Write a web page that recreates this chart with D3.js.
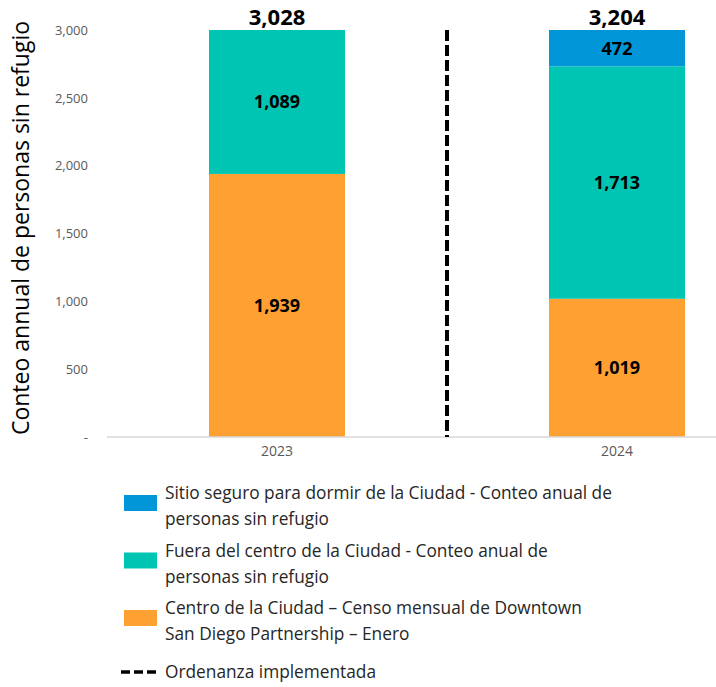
<!DOCTYPE html>
<head>
  <meta charset="utf-8">
  <script src="https://d3js.org/d3.v7.min.js"></script>
  <style>
    body { margin:0; background-color:#ffffff; }
    svg { display:block; font-family:"Open Sans", sans-serif; }
  </style>
</head>
<body>
<div class="chart-container"></div>
<script>
// data
var years = ["2023", "2024"];
var centro = [1939, 1019];     // orange
var fuera = [1089, 1713];      // teal
var sitio = [0, 472];          // blue
var totals = [3028, 3204];
var yTicks = [0, 500, 1000, 1500, 2000, 2500, 3000];

var legendItems = [
  { lines: ["Sitio seguro para dormir de la Ciudad - Conteo anual de", "personas sin refugio"], color: "#0096d8" },
  { lines: ["Fuera del centro de la Ciudad - Conteo anual de", "personas sin refugio"], color: "#00c5b2" },
  { lines: ["Centro de la Ciudad \u2013 Censo mensual de Downtown", "San Diego Partnership \u2013 Enero"], color: "#ffa033" }
];

var svg = d3.select(".chart-container").append("svg")
  .attr("width", 716)
  .attr("height", 687);

var x = d3.scaleBand()
  .domain(years)
  .range([107, 787])
  .paddingInner(0.6)
  .paddingOuter(0.3);

var y = d3.scaleLinear()
  .domain([0, 3000])
  .range([437, 30]);

// stack the series
var keys = ["centro", "fuera", "sitio"];
var colors = { centro: "#ffa033", fuera: "#00c5b2", sitio: "#0096d8" };
var rows = years.map(function(yr, i) {
  return { year: yr, centro: centro[i], fuera: fuera[i], sitio: sitio[i] };
});
var stack = d3.stack().keys(keys)(rows);

// y axis labels
var yAxis = d3.axisLeft(y)
  .tickValues(yTicks)
  .tickSize(0)
  .tickPadding(0)
  .tickFormat(function(d) { return d === 0 ? "-" : d3.format(",")(d); });

svg.append("g")
  .attr("transform", "translate(88,0)")
  .call(yAxis)
  .call(function(g) { g.select(".domain").remove(); })
  .selectAll("text")
  .attr("font-size", 13)
  .attr("font-family", "Open Sans, sans-serif")
  .attr("fill", "#595959");

// bars (clipped at the axis max, like the original)
var yMax = y.domain()[1];
function yc(v) { return y(Math.min(v, yMax)); }

stack.forEach(function(layer) {
  var segs = layer.filter(function(d) { return d[1] > d[0]; });
  svg.append("g").selectAll("rect")
    .data(segs)
    .enter().append("rect")
    .attr("x", function(d) { return x(d.data.year); })
    .attr("width", x.bandwidth())
    .attr("y", function(d) { return yc(d[1]); })
    .attr("height", function(d) { return yc(d[0]) - yc(d[1]); })
    .attr("fill", colors[layer.key]);

  svg.append("g").selectAll("text")
    .data(segs)
    .enter().append("text")
    .attr("x", function(d) { return x(d.data.year) + x.bandwidth() / 2; })
    .attr("y", function(d) { return (yc(d[0]) + yc(d[1])) / 2; })
    .attr("dy", "0.36em")
    .attr("text-anchor", "middle")
    .attr("font-size", 18)
    .attr("font-weight", "bold")
    .attr("fill", "#000")
    .text(function(d) { return d3.format(",")(d[1] - d[0]); });
});

// baseline
svg.append("line")
  .attr("x1", 107).attr("x2", 716)
  .attr("y1", y(0)).attr("y2", y(0))
  .attr("stroke", "#d9d9d9")
  .attr("stroke-width", 1.5);

// x labels
var xAxis = d3.axisBottom(x).tickSize(0).tickPadding(0);
svg.append("g")
  .attr("transform", "translate(0,446)")
  .call(xAxis)
  .call(function(g) { g.select(".domain").remove(); })
  .selectAll("text")
  .attr("font-size", 14)
  .attr("font-family", "Open Sans, sans-serif")
  .attr("fill", "#595959");

// totals
svg.append("g").selectAll("text")
  .data(years)
  .enter().append("text")
  .attr("x", function(d) { return x(d) + x.bandwidth() / 2; })
  .attr("y", 25)
  .attr("text-anchor", "middle")
  .attr("font-size", 22)
  .attr("font-weight", "bold")
  .attr("fill", "#000")
  .text(function(d, i) { return d3.format(",")(totals[i]); });

// ordinance line between the years
var midX = (x("2023") + x.bandwidth() + x("2024")) / 2;
svg.append("line")
  .attr("x1", midX).attr("x2", midX)
  .attr("y1", y(3000)).attr("y2", y(0))
  .attr("stroke", "#000")
  .attr("stroke-width", 4)
  .attr("stroke-dasharray", "11,4");

// y title
svg.append("text")
  .attr("transform", "translate(29,228) rotate(-90)")
  .attr("text-anchor", "middle")
  .attr("font-size", 23)
  .attr("fill", "#000")
  .text("Conteo annual de personas sin refugio");

// legend
var lg = svg.append("g");
legendItems.forEach(function(item, i) {
  var y0 = 493 + i * 57.5;
  lg.append("rect")
    .attr("x", 124).attr("y", y0 + 2)
    .attr("width", 33).attr("height", 16)
    .attr("fill", item.color);
  item.lines.forEach(function(t, j) {
    lg.append("text")
      .attr("x", 165)
      .attr("y", y0 + j * 26)
      .attr("dy", "0.36em")
      .attr("font-size", 17.3)
      .attr("fill", "#262626")
      .text(t);
  });
});
lg.append("line")
  .attr("x1", 121).attr("x2", 157)
  .attr("y1", 672).attr("y2", 672)
  .attr("stroke", "#000")
  .attr("stroke-width", 3.5)
  .attr("stroke-dasharray", "9,4");
lg.append("text")
  .attr("x", 165).attr("y", 672)
  .attr("dy", "0.36em")
  .attr("font-size", 17.3)
  .attr("fill", "#262626")
  .text("Ordenanza implementada");
</script>
</body>
